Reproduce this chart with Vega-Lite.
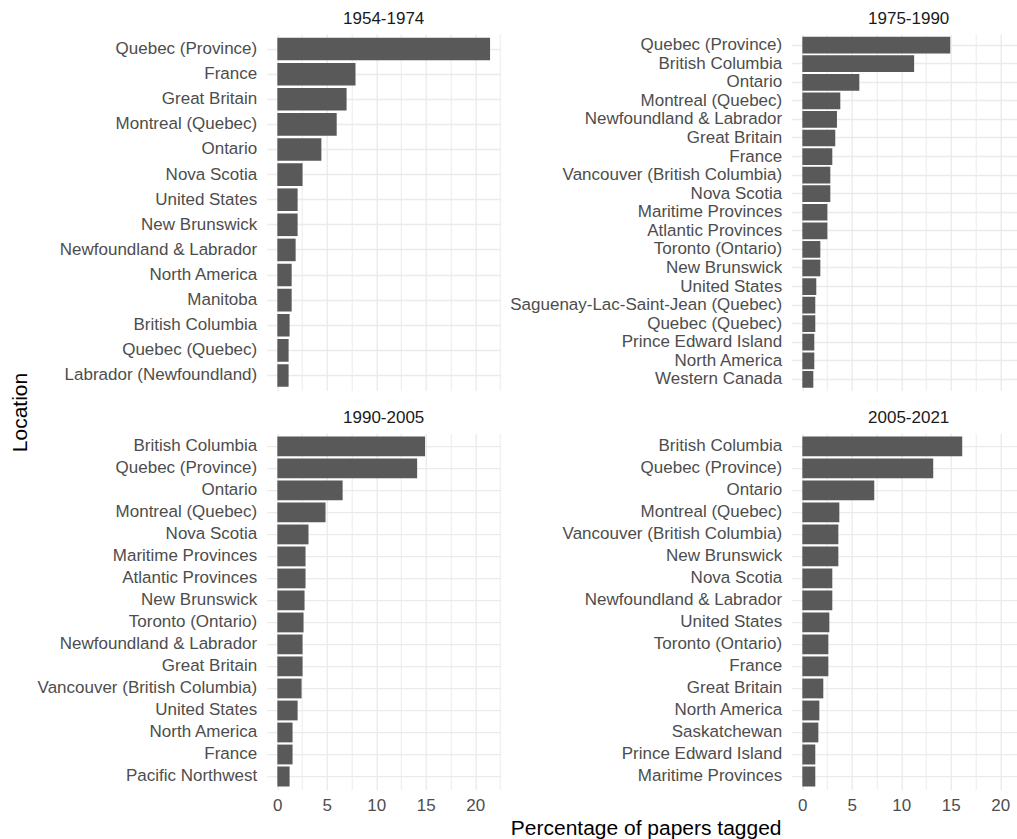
{
  "$schema": "https://vega.github.io/schema/vega-lite/v6.json",
  "background": "white",
  "padding": {"left": 9.7, "top": 10, "right": 0, "bottom": 0},
  "data": {
    "values": [
      {"period": "1954-1974", "location": "Quebec (Province)", "pct": 21.5},
      {"period": "1954-1974", "location": "France", "pct": 7.9},
      {"period": "1954-1974", "location": "Great Britain", "pct": 7.0},
      {"period": "1954-1974", "location": "Montreal (Quebec)", "pct": 6.0},
      {"period": "1954-1974", "location": "Ontario", "pct": 4.45},
      {"period": "1954-1974", "location": "Nova Scotia", "pct": 2.55},
      {"period": "1954-1974", "location": "United States", "pct": 2.05},
      {"period": "1954-1974", "location": "New Brunswick", "pct": 2.05},
      {"period": "1954-1974", "location": "Newfoundland & Labrador", "pct": 1.85},
      {"period": "1954-1974", "location": "North America", "pct": 1.45},
      {"period": "1954-1974", "location": "Manitoba", "pct": 1.45},
      {"period": "1954-1974", "location": "British Columbia", "pct": 1.24},
      {"period": "1954-1974", "location": "Quebec (Quebec)", "pct": 1.14},
      {"period": "1954-1974", "location": "Labrador (Newfoundland)", "pct": 1.14},

      {"period": "1975-1990", "location": "Quebec (Province)", "pct": 14.95},
      {"period": "1975-1990", "location": "British Columbia", "pct": 11.3},
      {"period": "1975-1990", "location": "Ontario", "pct": 5.76},
      {"period": "1975-1990", "location": "Montreal (Quebec)", "pct": 3.84},
      {"period": "1975-1990", "location": "Newfoundland & Labrador", "pct": 3.5},
      {"period": "1975-1990", "location": "Great Britain", "pct": 3.33},
      {"period": "1975-1990", "location": "France", "pct": 3.03},
      {"period": "1975-1990", "location": "Vancouver (British Columbia)", "pct": 2.83},
      {"period": "1975-1990", "location": "Nova Scotia", "pct": 2.83},
      {"period": "1975-1990", "location": "Maritime Provinces", "pct": 2.53},
      {"period": "1975-1990", "location": "Atlantic Provinces", "pct": 2.53},
      {"period": "1975-1990", "location": "Toronto (Ontario)", "pct": 1.82},
      {"period": "1975-1990", "location": "New Brunswick", "pct": 1.82},
      {"period": "1975-1990", "location": "United States", "pct": 1.41},
      {"period": "1975-1990", "location": "Saguenay-Lac-Saint-Jean (Quebec)", "pct": 1.31},
      {"period": "1975-1990", "location": "Quebec (Quebec)", "pct": 1.31},
      {"period": "1975-1990", "location": "Prince Edward Island", "pct": 1.21},
      {"period": "1975-1990", "location": "North America", "pct": 1.21},
      {"period": "1975-1990", "location": "Western Canada", "pct": 1.11},

      {"period": "1990-2005", "location": "British Columbia", "pct": 14.93},
      {"period": "1990-2005", "location": "Quebec (Province)", "pct": 14.13},
      {"period": "1990-2005", "location": "Ontario", "pct": 6.6},
      {"period": "1990-2005", "location": "Montreal (Quebec)", "pct": 4.87},
      {"period": "1990-2005", "location": "Nova Scotia", "pct": 3.15},
      {"period": "1990-2005", "location": "Maritime Provinces", "pct": 2.85},
      {"period": "1990-2005", "location": "Atlantic Provinces", "pct": 2.85},
      {"period": "1990-2005", "location": "New Brunswick", "pct": 2.75},
      {"period": "1990-2005", "location": "Toronto (Ontario)", "pct": 2.65},
      {"period": "1990-2005", "location": "Newfoundland & Labrador", "pct": 2.55},
      {"period": "1990-2005", "location": "Great Britain", "pct": 2.55},
      {"period": "1990-2005", "location": "Vancouver (British Columbia)", "pct": 2.45},
      {"period": "1990-2005", "location": "United States", "pct": 2.05},
      {"period": "1990-2005", "location": "North America", "pct": 1.54},
      {"period": "1990-2005", "location": "France", "pct": 1.54},
      {"period": "1990-2005", "location": "Pacific Northwest", "pct": 1.24},

      {"period": "2005-2021", "location": "British Columbia", "pct": 16.16},
      {"period": "2005-2021", "location": "Quebec (Province)", "pct": 13.23},
      {"period": "2005-2021", "location": "Ontario", "pct": 7.27},
      {"period": "2005-2021", "location": "Montreal (Quebec)", "pct": 3.74},
      {"period": "2005-2021", "location": "Vancouver (British Columbia)", "pct": 3.64},
      {"period": "2005-2021", "location": "New Brunswick", "pct": 3.64},
      {"period": "2005-2021", "location": "Nova Scotia", "pct": 3.03},
      {"period": "2005-2021", "location": "Newfoundland & Labrador", "pct": 3.03},
      {"period": "2005-2021", "location": "United States", "pct": 2.73},
      {"period": "2005-2021", "location": "Toronto (Ontario)", "pct": 2.63},
      {"period": "2005-2021", "location": "France", "pct": 2.63},
      {"period": "2005-2021", "location": "Great Britain", "pct": 2.12},
      {"period": "2005-2021", "location": "North America", "pct": 1.72},
      {"period": "2005-2021", "location": "Saskatchewan", "pct": 1.62},
      {"period": "2005-2021", "location": "Prince Edward Island", "pct": 1.31},
      {"period": "2005-2021", "location": "Maritime Provinces", "pct": 1.31}
    ]
  },
  "columns": 2,
  "bounds": "flush",
  "spacing": {"row": 42.2, "column": 291},
  "concat": [
    {
      "width": 234,
      "height": 356.5,
      "title": {"text": "1954-1974"},
      "transform": [{"filter": "datum.period === '1954-1974'"}],
      "mark": {"type": "bar", "color": "#595959"},
      "encoding": {
        "y": {
          "field": "location", "type": "nominal", "sort": null,
          "scale": {"paddingInner": 0.1, "paddingOuter": 0.15},
          "axis": {"title": "Location", "titleX": -239.8, "titleY": 378, "titleAngle": -90, "titleBaseline": "alphabetic", "titleAlign": "center", "titleFontSize": 21, "titleFontWeight": "normal", "titleColor": "#000000"}
        },
        "x": {
          "field": "pct", "type": "quantitative",
          "scale": {"domain": [-1.075, 22.575], "nice": false, "zero": false},
          "axis": {"title": null, "labels": false, "values": [0, 2.5, 5, 7.5, 10, 12.5, 15, 17.5, 20, 22.5]}
        }
      }
    },
    {
      "width": 225.5,
      "height": 356.5,
      "title": {"text": "1975-1990", "dx": 4.25},
      "transform": [{"filter": "datum.period === '1975-1990'"}],
      "mark": {"type": "bar", "color": "#595959"},
      "encoding": {
        "y": {
          "field": "location", "type": "nominal", "sort": null,
          "scale": {"paddingInner": 0.1, "paddingOuter": 0.15},
          "axis": {"title": null}
        },
        "x": {
          "field": "pct", "type": "quantitative",
          "scale": {"domain": [-1.075, 21.716], "nice": false, "zero": false},
          "axis": {"title": null, "labels": false, "values": [0, 2.5, 5, 7.5, 10, 12.5, 15, 17.5, 20]}
        }
      }
    },
    {
      "width": 234,
      "height": 356.5,
      "title": {"text": "1990-2005"},
      "transform": [{"filter": "datum.period === '1990-2005'"}],
      "mark": {"type": "bar", "color": "#595959"},
      "encoding": {
        "y": {
          "field": "location", "type": "nominal", "sort": null,
          "scale": {"paddingInner": 0.1, "paddingOuter": 0.15},
          "axis": {"title": null}
        },
        "x": {
          "field": "pct", "type": "quantitative",
          "scale": {"domain": [-1.075, 22.575], "nice": false, "zero": false},
          "axis": {
            "values": [0, 2.5, 5, 7.5, 10, 12.5, 15, 17.5, 20, 22.5],
            "labelExpr": "datum.value % 5 === 0 ? datum.label : ''",
            "title": "Percentage of papers tagged",
            "titleX": 379, "titleY": 45, "titleBaseline": "alphabetic", "titleAlign": "center",
            "titleFontSize": 21, "titleFontWeight": "normal", "titleColor": "#000000"
          }
        }
      }
    },
    {
      "width": 225.5,
      "height": 356.5,
      "title": {"text": "2005-2021", "dx": 4.25},
      "transform": [{"filter": "datum.period === '2005-2021'"}],
      "mark": {"type": "bar", "color": "#595959"},
      "encoding": {
        "y": {
          "field": "location", "type": "nominal", "sort": null,
          "scale": {"paddingInner": 0.1, "paddingOuter": 0.15},
          "axis": {"title": null}
        },
        "x": {
          "field": "pct", "type": "quantitative",
          "scale": {"domain": [-1.075, 21.716], "nice": false, "zero": false},
          "axis": {
            "values": [0, 2.5, 5, 7.5, 10, 12.5, 15, 17.5, 20],
            "labelExpr": "datum.value % 5 === 0 ? datum.label : ''",
            "title": null
          }
        }
      }
    }
  ],
  "config": {
    "font": "Liberation Sans",
    "view": {"stroke": null},
    "axis": {
      "domain": false,
      "ticks": false,
      "grid": true,
      "gridColor": "#EBEBEB",
      "labelColor": "#4D4D4D",
      "labelFontSize": 17,
      "labelFont": "Liberation Sans",
      "titleFont": "Liberation Sans",
      "labelOverlap": false
    },
    "axisX": {
      "gridWidth": {"condition": {"test": "datum.value % 5 === 0", "value": 1.4}, "value": 1},
      "labelPadding": 8,
      "labelFlush": false
    },
    "axisY": {
      "bandPosition": 0.5,
      "gridWidth": 1.3,
      "labelPadding": 10,
      "labelLimit": 400
    },
    "title": {
      "font": "Liberation Sans",
      "fontSize": 17,
      "fontWeight": "normal",
      "color": "#1A1A1A",
      "anchor": "middle",
      "frame": "group",
      "offset": 6
    }
  }
}
